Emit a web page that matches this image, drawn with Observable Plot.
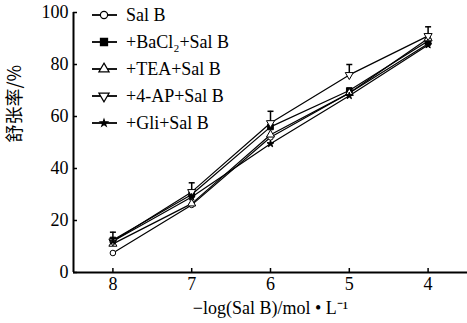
<!DOCTYPE html>
<html><head><meta charset="utf-8">
<script src="https://cdn.jsdelivr.net/npm/d3@7"></script>
<script src="https://cdn.jsdelivr.net/npm/@observablehq/plot@0.6"></script>
<style>body{margin:0;background:#fff} svg text{font-family:"Liberation Serif",serif}</style>
</head><body><div id="chart"></div>
<script>
const concentrations = [8, 7, 6, 5, 4];
const seriesNames = ["Sal B", "+BaCl₂+Sal B", "+TEA+Sal B", "+4-AP+Sal B", "+Gli+Sal B"];
const salB  = [7.5, 26, 52, 69, 88];
const baCl2 = [12.5, 30, 56, 70, 89];
const tea   = [11, 26.5, 53, 69, 90];
const ap4   = [12, 31, 57.5, 76, 91];
const gli   = [12, 29, 49.5, 68, 87.5];
const errorTop = [15.5, 34.5, 62, 80, 94.5];
const yTicks = [0, 20, 40, 60, 80, 100];
const xTicks = [8, 7, 6, 5, 4];
const xLabel = "−log(Sal B)/mol • L⁻¹";
const yLabel = "舒张率/%";

const seriesValues = [salB, baCl2, tea, ap4, gli];
const styles = [
  {symbol: "circle", fill: "white", rotate: 0, r: 2.8, lr: 3.6},
  {symbol: "square", fill: "black", rotate: 0, r: 3.2, lr: 4},
  {symbol: "triangle", fill: "white", rotate: 0, r: 3, lr: 3.8},
  {symbol: "triangle", fill: "white", rotate: 180, r: 3, lr: 3.8},
  {symbol: "star", fill: "black", rotate: 0, r: 2.2, lr: 2.2}
];

const rows = [];
seriesNames.forEach((name, i) => {
  concentrations.forEach((c, j) => rows.push({series: name, idx: i, x: c, y: seriesValues[i][j]}));
});
const errRows = concentrations.map((c, j) => ({
  x: c, base: d3.max(seriesValues, s => s[j]), top: errorTop[j]
}));

const capSymbol = {draw(ctx, size) { const w = Math.sqrt(size / Math.PI); ctx.moveTo(-w, 0); ctx.lineTo(w, 0); }};

const font = "Liberation Serif";
const fs = 18;
const plot = Plot.plot({
  width: 467, height: 323,
  marginLeft: 73, marginRight: 0, marginTop: 12, marginBottom: 51,
  style: {fontFamily: font, fontSize: fs + "px", color: "#000", background: "#fff"},
  x: {domain: [8.5, 3.5], axis: null},
  y: {domain: [0, 100], axis: null},
  marks: [
    Plot.axisY(yTicks, {tickSize: 0, tickPadding: 5, label: null, fontSize: fs}),
    Plot.axisX(xTicks, {tickSize: 0, tickPadding: 5, label: null, fontSize: fs}),
    Plot.tickY(yTicks, {y: d => d, insetRight: 390, strokeWidth: 1.5}),
    Plot.tickX(xTicks, {x: d => d, insetTop: 256, strokeWidth: 1.5}),
    Plot.ruleX([8.5], {strokeWidth: 2}),
    Plot.ruleY([0], {strokeWidth: 2}),
    Plot.ruleX(errRows, {x: "x", y1: "base", y2: "top", strokeWidth: 1.5}),
    Plot.dot(errRows, {x: "x", y: "top", symbol: capSymbol, r: 3, stroke: "black", strokeWidth: 1.5}),
    Plot.line(rows, {x: "x", y: "y", z: "series", stroke: "black", strokeWidth: 1.2}),
    ...styles.map((s, i) => Plot.dot(rows.filter(d => d.idx === i), {
      x: "x", y: "y", symbol: s.symbol, fill: s.fill, stroke: "black", strokeWidth: 1, r: s.r, rotate: s.rotate
    })),
    Plot.text([xLabel], {frameAnchor: "bottom", dy: 41, fontSize: fs}),
    Plot.text([yLabel], {frameAnchor: "left", dx: -58, rotate: -90, fontSize: fs, fontFamily: "Noto Sans CJK SC"})
  ]
});
document.getElementById("chart").append(plot);
d3.select(plot).selectAll("text").filter(function() { return this.textContent === yLabel; })
  .style("font-family", "'Noto Sans CJK SC'");

// legend
const svg = d3.select(plot);
const lg = svg.append("g").style("font-size", fs + "px").attr("text-anchor", "start");
seriesNames.forEach((name, i) => {
  const y = 15 + 27 * i;
  const s = styles[i];
  lg.append("line").attr("x1", 92).attr("x2", 117).attr("y1", y).attr("y2", y).attr("stroke", "black").attr("stroke-width", 1.8);
  const sym = {circle: d3.symbolCircle, square: d3.symbolSquare, triangle: d3.symbolTriangle, star: d3.symbolStar}[s.symbol];
  lg.append("path").attr("d", d3.symbol(sym, Math.PI * s.lr ** 2)())
    .attr("transform", `translate(104,${y}) rotate(${s.rotate})`)
    .attr("fill", s.fill).attr("stroke", "black").attr("stroke-width", 1.2);
  lg.append("text").attr("x", 126).attr("y", y).attr("dy", "0.35em").attr("text-anchor", "start").text(name);
});
</script></body></html>
